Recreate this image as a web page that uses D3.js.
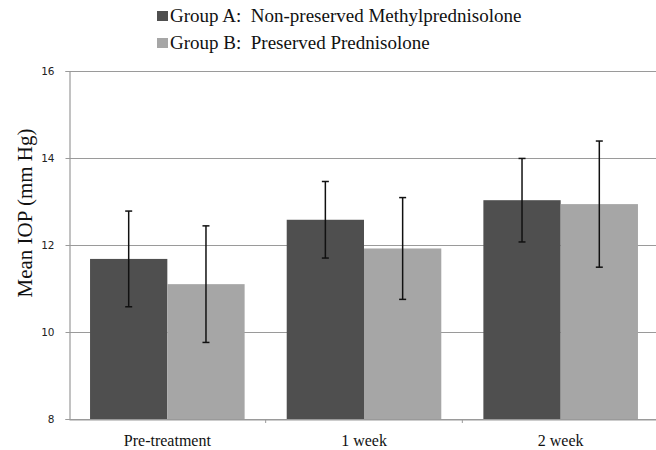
<!DOCTYPE html>
<html><head><meta charset="utf-8">
<script src="https://cdn.jsdelivr.net/npm/d3@7"></script>
<style>body{margin:0;background:#fff}svg{display:block}</style>
</head><body>
<svg id="c" width="656" height="450"></svg>
<script>
const categories = ["Pre-treatment", "1 week", "2 week"];
const seriesNames = ["Group A:  Non-preserved Methylprednisolone", "Group B:  Preserved Prednisolone"];
const groupA = [11.68, 12.58, 13.03];
const groupAErr = [1.10, 0.88, 0.96];
const groupB = [11.10, 11.92, 12.94];
const groupBErr = [1.34, 1.17, 1.45];
const yTicks = [8, 10, 12, 14, 16];
const colors = ["#4f4f4f", "#a6a6a6"];

(function () {
const svg = d3.select("#c");
const mL = 69, mR = 659, mT = 71, mB = 419;
const x0 = d3.scaleBand().domain(categories).range([mL, mR]).paddingInner(0.214).paddingOuter(0.107);
const x1 = d3.scaleBand().domain([0, 1]).range([0, x0.bandwidth()]);
const y = d3.scaleLinear().domain([8, 16]).range([mB, mT]);

// gridlines
svg.append("g").selectAll("line").data(yTicks).join("line")
  .attr("x1", mL).attr("x2", mR)
  .attr("y1", d => y(d) + 0.5).attr("y2", d => y(d) + 0.5)
  .attr("stroke", "#9a9a9a").attr("stroke-width", 1.2);

const series = [{v: groupA, e: groupAErr}, {v: groupB, e: groupBErr}];
const rows = [];
categories.forEach((c, i) => series.forEach((s, j) => rows.push({c, j, v: s.v[i], e: s.e[i]})));

svg.append("g").selectAll("rect").data(rows).join("rect")
  .attr("x", d => x0(d.c) + x1(d.j))
  .attr("width", x1.bandwidth())
  .attr("y", d => y(d.v))
  .attr("height", d => y(8) - y(d.v))
  .attr("fill", d => colors[d.j]);

// error bars
const eg = svg.append("g").attr("stroke", "#111").attr("stroke-width", 1.5);
rows.forEach(d => {
  const cx = x0(d.c) + x1(d.j) + x1.bandwidth() / 2;
  eg.append("line").attr("x1", cx).attr("x2", cx).attr("y1", y(d.v + d.e)).attr("y2", y(d.v - d.e));
  [d.v + d.e, d.v - d.e].forEach(t => eg.append("line").attr("x1", cx - 3.5).attr("x2", cx + 3.5).attr("y1", y(t)).attr("y2", y(t)));
});

// y axis
const yAxis = d3.axisLeft(y).tickValues(yTicks).tickSize(4).tickPadding(11).tickFormat(d3.format("d"));
const ga = svg.append("g").attr("transform", `translate(${mL + 0.5},0)`).call(yAxis);
ga.select(".domain").attr("stroke", "#9a9a9a").attr("stroke-width", 1.2);
ga.selectAll(".tick line").attr("stroke", "#9a9a9a");
ga.selectAll("text").attr("font-family", "DejaVu Sans").attr("font-size", 10.5).attr("fill", "#222");

// x axis
const xAxis = d3.axisBottom(x0).tickSize(0).tickPadding(15);
const gx = svg.append("g").attr("transform", `translate(0,${mB + 0.5})`).call(xAxis);
gx.select(".domain").attr("stroke", "#9a9a9a").attr("stroke-width", 1.2);
gx.selectAll("text").attr("font-family", "Liberation Serif").attr("font-size", 16).attr("fill", "#111");
// category separators
svg.append("g").selectAll("line").data(categories.slice(1)).join("line")
  .attr("x1", d => x0(d) - x0.step() * 0.107).attr("x2", d => x0(d) - x0.step() * 0.107)
  .attr("y1", mB).attr("y2", mB + 4).attr("stroke", "#9a9a9a");

// y title
svg.append("text").attr("transform", "translate(32,213) rotate(-90)")
  .attr("text-anchor", "middle").attr("font-family", "Liberation Serif").attr("font-size", 21).attr("fill", "#111")
  .text("Mean IOP (mm Hg)");

// legend
const lg = svg.append("g");
seriesNames.forEach((n, i) => {
  lg.append("rect").attr("x", 157).attr("y", 11 + i * 27).attr("width", 11).attr("height", 10).attr("fill", colors[i]);
  lg.append("text").attr("x", 170).attr("y", 22 + i * 27).attr("font-family", "Liberation Serif").attr("font-size", 19).attr("fill", "#111")
    .attr("xml:space", "preserve").style("white-space", "pre").text(n);
});
})();
</script>
</body></html>
